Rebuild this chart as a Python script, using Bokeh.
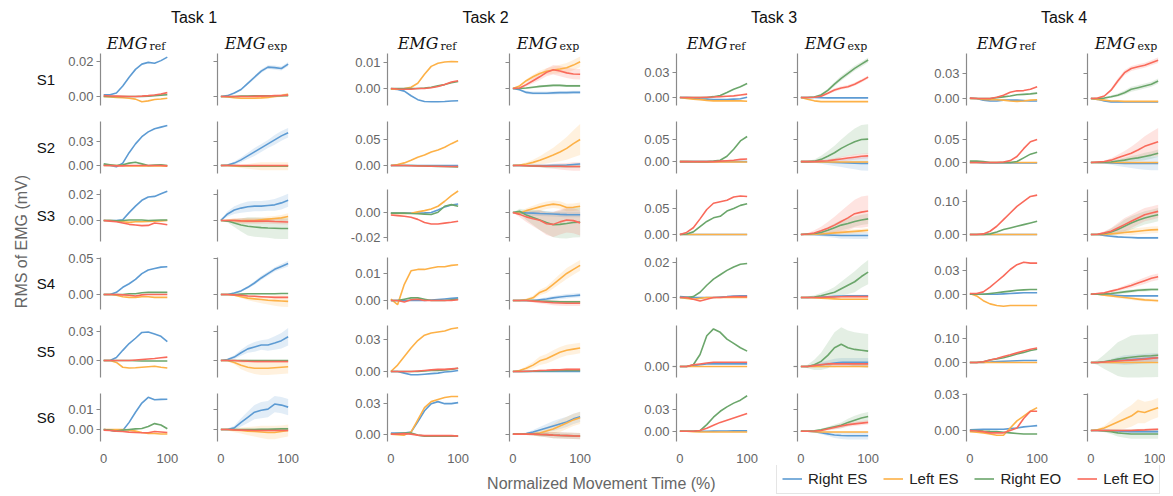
import math
from bokeh.plotting import figure
from bokeh.layouts import row, column
from bokeh.models import (Range1d, FixedTicker, NumeralTickFormatter, Legend, LegendItem,
                          CustomJSTickFormatter)
from bokeh.embed import file_html
from bokeh.resources import INLINE
from bokeh.core.properties import value

# ---------------- data ----------------
TIME = [0, 10, 20, 30, 40, 50, 60, 70, 80, 90, 100]
MUSCLES = ["Right ES", "Left ES", "Right EO", "Left EO"]
COLORS = ["#5d9bd3", "#fdb147", "#6ba66b", "#f96a5b"]
TASKS = ["Task 1", "Task 2", "Task 3", "Task 4"]
SUBJECTS = ["S1", "S2", "S3", "S4", "S5", "S6"]
X_TICKS = [0, 100]

T1_YLIM = [(-0.00514, 0.02457), (-0.01, 0.055), (-0.0162, 0.0238), (-0.0208, 0.0514), (-0.0176, 0.0362), (-0.0059, 0.0177)]
T2_YLIM = [(-0.00654, 0.01346), (-0.0154, 0.0846), (-0.0232, 0.0184), (-0.0033, 0.0159), (-0.0056, 0.0431), (-0.0073, 0.04)]
T3_YLIM = [(-0.0096, 0.0528), (-0.027, 0.091), (-0.0135, 0.0865), (-0.0069, 0.0229), (-0.0129, 0.048), (-0.0138, 0.051)]
T4_YLIM = [(-0.0084, 0.054), (-0.024, 0.089), (-0.021, 0.136), (-0.019, 0.046), (-0.0625, 0.154), (-0.0092, 0.0308)]

T1_TICKS = [[0, 0.02], [0, 0.03], [0, 0.02], [0, 0.05], [0, 0.03], [0, 0.01]]
T2_TICKS = [[0, 0.01], [0, 0.05], [-0.02, 0], [0, 0.01], [0, 0.03], [0, 0.03]]
T3_TICKS = [[0, 0.03], [0, 0.05], [0, 0.05], [0, 0.02], [0, 0.05], [0, 0.03]]
T4_TICKS = [[0, 0.03], [0, 0.05], [0, 0.1], [0, 0.03], [0, 0.1], [0, 0.03]]

# each panel: [Right ES, Left ES, Right EO, Left EO]
T1_S1_REF = [[0.001,0.001,0.002,0.006,0.011,0.0155,0.0185,0.0195,0.019,0.0205,0.0225],
             [0,-0.0003,-0.0005,-0.0007,-0.001,-0.0015,-0.003,-0.0025,-0.0017,-0.0014,-0.001],
             [0,0,0,0,0,0,0,0.0002,0.0005,0.0008,0.001],
             [0.0005,0.0003,0.0002,0.0001,0,0,0.0002,0.0005,0.0009,0.0014,0.0022]]
T1_S1_EXP = [[0,0.0005,0.002,0.004,0.0075,0.011,0.0145,0.0168,0.0165,0.016,0.0185],
             [0,-0.0003,-0.0007,-0.001,-0.001,-0.001,-0.0008,-0.0005,0,0.0005,0.0012],
             [0,0,0,0.0002,0.0003,0.0004,0.0004,0.0004,0.0004,0.0004,0.0005],
             [0,0,0,0,0,0.0001,0.0002,0.0003,0.0005,0.0006,0.0008]]
T1_S1_SD = [[0,0.0002,0.0004,0.0006,0.0008,0.001,0.001,0.001,0.0012,0.0012,0.0012],
            [0,0.0002,0.0004,0.0005,0.0006,0.0006,0.0006,0.0006,0.0007,0.0008,0.001],
            [0,0.0001,0.0002,0.0002,0.0002,0.0002,0.0002,0.0002,0.0002,0.0002,0.0003],
            [0,0.0001,0.0002,0.0002,0.0003,0.0003,0.0003,0.0003,0.0003,0.0004,0.0004]]

T1_S2_REF = [[0.0005,0,-0.0015,0.003,0.016,0.027,0.036,0.042,0.046,0.048,0.05],
             [0,0,0,0,-0.0005,-0.0005,-0.0005,-0.0005,-0.0005,-0.0005,-0.001],
             [0.002,0.001,0,0.001,0.003,0.004,0.002,0,0.0005,0.001,0],
             [0,0,-0.0005,-0.0005,0,0,0,0,0,0,-0.0005]]
T1_S2_EXP = [[0,0.0005,0.003,0.007,0.012,0.017,0.022,0.027,0.032,0.037,0.041],
             [0,0,-0.0005,-0.001,-0.001,-0.001,-0.001,-0.001,-0.001,-0.001,-0.001],
             [0,0,0,-0.0003,-0.0005,-0.0005,-0.0005,-0.0005,-0.0005,-0.0005,-0.0005],
             [0,0,0,0,0,0,0,0,0,0,0]]
T1_S2_SD = [[0,0.001,0.002,0.003,0.004,0.005,0.005,0.005,0.006,0.006,0.006],
            [0,0.0005,0.001,0.002,0.003,0.004,0.005,0.005,0.005,0.005,0.005],
            [0,0.0002,0.0003,0.0004,0.0005,0.0005,0.0005,0.0005,0.0005,0.0005,0.0005],
            [0,0.0002,0.0003,0.0004,0.0005,0.0005,0.0005,0.0005,0.0005,0.0005,0.0005]]

T1_S3_REF = [[0,0,0,0.0005,0.006,0.011,0.0155,0.018,0.0185,0.0205,0.0225],
             [0,0,-0.0005,-0.001,-0.0015,-0.001,-0.001,-0.0008,-0.0005,-0.0003,0],
             [0,0,-0.0003,0,0.0003,0.0003,0.0003,0,0.0002,0.0003,0.0003],
             [0,-0.0005,-0.001,-0.002,-0.003,-0.0035,-0.004,-0.0038,-0.002,-0.0025,-0.0033]]
T1_S3_EXP = [[0,0.005,0.008,0.0095,0.0105,0.011,0.011,0.0115,0.012,0.0135,0.0155],
             [0,0,0,-0.0003,0,0,0.0005,0.001,0.0015,0.002,0.003],
             [0,-0.0005,-0.002,-0.0035,-0.0045,-0.005,-0.0055,-0.0058,-0.006,-0.0062,-0.0062],
             [0,0,0,-0.0003,-0.0005,-0.0005,-0.0005,-0.0005,-0.0008,-0.001,-0.0012]]
T1_S3_SD = [[0,0.002,0.003,0.0035,0.004,0.004,0.004,0.004,0.0045,0.005,0.005],
            [0,0.001,0.0015,0.002,0.002,0.002,0.002,0.002,0.002,0.0022,0.0025],
            [0,0.001,0.003,0.005,0.007,0.0075,0.0075,0.0075,0.008,0.008,0.008],
            [0,0.001,0.0015,0.002,0.002,0.002,0.002,0.002,0.002,0.002,0.002]]

T1_S4_REF = [[0,0,0.003,0.01,0.015,0.021,0.029,0.034,0.036,0.038,0.0385],
             [0,0,-0.001,-0.003,-0.004,-0.004,-0.003,-0.003,-0.004,-0.004,-0.004],
             [0,0,0,0,0.001,0.001,0.0025,0.003,0.003,0.003,0.003],
             [0,0,0,-0.0005,-0.001,-0.002,-0.0005,0,0,0,0]]
T1_S4_EXP = [[0,0,0.002,0.005,0.01,0.016,0.023,0.029,0.035,0.039,0.043],
             [0,0,-0.001,-0.003,-0.005,-0.006,-0.007,-0.008,-0.0085,-0.009,-0.0095],
             [0,0,0,0.0005,0.001,0.001,0.001,0.001,0.001,0.0015,0.0015],
             [0,0,-0.0005,-0.001,-0.002,-0.0025,-0.003,-0.0035,-0.004,-0.004,-0.004]]
T1_S4_SD = [[0,0.0005,0.001,0.0015,0.002,0.0025,0.003,0.003,0.003,0.0035,0.004],
            [0,0.0005,0.001,0.002,0.003,0.004,0.005,0.006,0.007,0.008,0.008],
            [0,0.0003,0.0005,0.0005,0.0005,0.0005,0.0005,0.0005,0.0005,0.0005,0.0005],
            [0,0.0003,0.0005,0.001,0.001,0.001,0.001,0.001,0.001,0.001,0.001]]

T1_S5_REF = [[0,0,0.003,0.0105,0.0175,0.023,0.029,0.0295,0.0275,0.025,0.0195],
             [0,0,-0.002,-0.007,-0.0078,-0.0075,-0.007,-0.0065,-0.006,-0.007,-0.0078],
             [0,0,0,0,0,-0.0003,-0.0005,-0.0005,-0.0005,-0.0005,-0.0005],
             [0,0,0,0,0,0.0005,0.001,0.0015,0.002,0.0028,0.0035]]
T1_S5_EXP = [[0,0.001,0.0035,0.008,0.012,0.014,0.016,0.016,0.018,0.0205,0.0245],
             [0,0,-0.002,-0.005,-0.007,-0.008,-0.008,-0.008,-0.0075,-0.007,-0.0065],
             [0,0,0,0,0,0,0,0,0,0,0],
             [0,0,0,-0.0005,-0.0008,-0.001,-0.001,-0.001,-0.001,-0.001,-0.001]]
T1_S5_SD = [[0,0.001,0.002,0.003,0.004,0.005,0.005,0.006,0.007,0.008,0.009],
            [0,0.001,0.002,0.004,0.005,0.006,0.007,0.007,0.007,0.007,0.007],
            [0,0.0003,0.0005,0.0005,0.0005,0.0005,0.0005,0.0005,0.0005,0.0005,0.0005],
            [0,0.0005,0.001,0.0015,0.0015,0.0015,0.0015,0.0015,0.0015,0.0015,0.0015]]

T1_S6_REF = [[0,-0.0003,-0.0008,-0.0005,0.0035,0.0085,0.013,0.0158,0.0146,0.0148,0.0149],
             [0,0,0,0,-0.0003,-0.0008,-0.0015,-0.002,-0.002,-0.0022,-0.0022],
             [0,-0.0003,-0.0008,-0.0003,0,0.0003,0.0005,0.0015,0.0029,0.0022,0.0004],
             [-0.0003,-0.0005,-0.0008,-0.001,-0.0013,-0.0015,-0.0016,-0.0016,-0.001,-0.0012,-0.0015]]
T1_S6_EXP = [[0,0,0.0008,0.0035,0.006,0.0085,0.0095,0.01,0.0125,0.012,0.011],
             [0,0,-0.0003,-0.0005,-0.0008,-0.001,-0.0012,-0.0015,-0.0015,-0.001,-0.0005],
             [0,0,0,0,0,0,0.0001,0.0001,0.0002,0.0003,0.0003],
             [0,0,-0.0002,-0.0003,-0.0004,-0.0005,-0.0005,-0.0005,-0.0005,-0.0005,-0.0005]]
T1_S6_SD = [[0,0.0005,0.001,0.002,0.0028,0.0035,0.004,0.004,0.004,0.004,0.004],
            [0,0.0005,0.001,0.0015,0.002,0.0025,0.003,0.0033,0.0033,0.003,0.003],
            [0,0.0002,0.0003,0.0004,0.0005,0.0005,0.0005,0.0005,0.0005,0.0005,0.0005],
            [0,0.0002,0.0003,0.0004,0.0005,0.0005,0.0005,0.0005,0.0005,0.0005,0.0005]]

T2_S1_REF = [[-0.0002,-0.0004,-0.001,-0.0028,-0.0043,-0.005,-0.0051,-0.0051,-0.005,-0.0048,-0.0047],
             [-0.0003,-0.0003,0,0.0005,0.002,0.0055,0.0085,0.0097,0.0102,0.0104,0.0103],
             [0,0,0,0,0,0.0002,0.0005,0.001,0.0015,0.0022,0.0027],
             [0,-0.0002,-0.0003,-0.0003,0,0,0.0003,0.0008,0.0015,0.0025,0.003]]
T2_S1_EXP = [[0,-0.0005,-0.0015,-0.0018,-0.0018,-0.0018,-0.0017,-0.0016,-0.0016,-0.0015,-0.0015],
             [0,0.001,0.003,0.0045,0.0058,0.0066,0.0071,0.0075,0.008,0.009,0.0103],
             [0,0,0.0002,0.0005,0.0008,0.001,0.0012,0.0012,0.001,0.001,0.001],
             [0,0.0002,0.0015,0.003,0.0045,0.0062,0.0072,0.0067,0.006,0.0056,0.0055]]
T2_S1_SD = [[0,0.0003,0.0005,0.0006,0.0006,0.0006,0.0006,0.0006,0.0006,0.0006,0.0006],
            [0,0.0003,0.0006,0.0008,0.001,0.0012,0.0014,0.0016,0.0018,0.002,0.002],
            [0,0.0002,0.0003,0.0004,0.0004,0.0004,0.0004,0.0004,0.0004,0.0004,0.0004],
            [0,0.0003,0.0007,0.001,0.0012,0.0015,0.0018,0.002,0.002,0.002,0.002]]

T2_S2_REF = [[0,0,0,0,0,0,0,0,0,0,0],
             [0,0.002,0.005,0.01,0.016,0.02,0.026,0.03,0.035,0.042,0.048],
             [0,0,0,0,-0.0005,-0.001,-0.0015,-0.002,-0.002,-0.0025,-0.003],
             [0,0,0,-0.0005,-0.001,-0.001,-0.0015,-0.0015,-0.002,-0.002,-0.002]]
T2_S2_EXP = [[0,0,0,0,0,0,0.0003,0.0005,0.001,0.002,0.003],
             [0,0.001,0.003,0.006,0.01,0.015,0.02,0.026,0.033,0.042,0.05],
             [0,0,-0.0005,-0.001,-0.0015,-0.002,-0.002,-0.002,-0.002,-0.002,-0.002],
             [0,0,-0.0005,-0.001,-0.001,-0.0015,-0.0015,-0.0015,-0.002,-0.002,-0.002]]
T2_S2_SD = [[0,0.0003,0.0005,0.0005,0.0005,0.0005,0.0008,0.001,0.0012,0.0015,0.002],
            [0,0.001,0.003,0.005,0.008,0.011,0.014,0.018,0.022,0.026,0.03],
            [0,0.0003,0.0005,0.0008,0.001,0.001,0.001,0.001,0.001,0.001,0.001],
            [0,0.0005,0.001,0.002,0.003,0.004,0.005,0.006,0.007,0.008,0.008]]

T2_S3_REF = [[-0.0005,-0.0005,-0.0005,-0.0005,-0.0005,-0.0003,0,0.002,0.0045,0.006,0.0068],
             [-0.0008,-0.0008,-0.0008,-0.0006,0.0005,0.0015,0.0028,0.005,0.009,0.0135,0.0172],
             [-0.0005,-0.0005,-0.0005,-0.0008,-0.001,-0.0013,-0.0016,0.0002,0.005,0.0063,0.005],
             [-0.002,-0.0025,-0.003,-0.0038,-0.0055,-0.008,-0.0092,-0.0092,-0.0085,-0.0078,-0.007]]
T2_S3_EXP = [[0,0,-0.0003,-0.0005,-0.0008,-0.001,-0.0012,-0.0015,-0.0017,-0.0018,-0.0018],
             [0,-0.0005,0.0015,0.003,0.0045,0.0058,0.0067,0.006,0.004,0.0042,0.005],
             [0,0.001,-0.002,-0.004,-0.006,-0.008,-0.0098,-0.0095,-0.0088,-0.008,-0.0077],
             [0,-0.0015,-0.0035,-0.005,-0.0062,-0.009,-0.0095,-0.0075,-0.006,-0.0065,-0.0083]]
T2_S3_SD = [[0,0.001,0.0015,0.002,0.002,0.002,0.002,0.002,0.002,0.002,0.002],
            [0,0.001,0.002,0.0025,0.003,0.003,0.003,0.003,0.003,0.003,0.003],
            [0,0.002,0.004,0.006,0.008,0.009,0.01,0.011,0.012,0.012,0.012],
            [0,0.002,0.004,0.006,0.008,0.009,0.01,0.01,0.01,0.01,0.01]]

T2_S4_REF = [[0,0,0,0,0,0,0.0002,0.0004,0.0006,0.0008,0.001],
             [0.0005,-0.0015,0.006,0.011,0.0115,0.0115,0.012,0.0125,0.0125,0.013,0.0132],
             [0,0,0.0005,0.001,0.001,0.0005,0,0,0,0.0003,0.0005],
             [0,0,-0.0005,0.0003,0.0005,0,0,0,0,0,0.0003]]
T2_S4_EXP = [[0,0,0,0,0.0003,0.0006,0.001,0.0013,0.0016,0.0018,0.002],
             [0,0,0.0003,0.001,0.003,0.004,0.006,0.008,0.01,0.0115,0.013],
             [0,0,0,0,-0.0002,-0.0003,-0.0004,-0.0005,-0.0005,-0.0005,-0.0005],
             [0,0,0,-0.0002,-0.0004,-0.0006,-0.0008,-0.0009,-0.001,-0.001,-0.001]]
T2_S4_SD = [[0,0.0002,0.0003,0.0004,0.0005,0.0006,0.0007,0.0008,0.0008,0.0008,0.0008],
            [0,0.0003,0.0005,0.0008,0.001,0.0012,0.0015,0.0018,0.002,0.002,0.002],
            [0,0.0002,0.0002,0.0003,0.0003,0.0003,0.0003,0.0003,0.0003,0.0003,0.0003],
            [0,0.0002,0.0003,0.0005,0.0007,0.0008,0.0009,0.001,0.001,0.001,0.001]]

T2_S5_REF = [[0,0,-0.0015,-0.003,-0.003,-0.0025,-0.002,-0.0015,-0.0005,0,0.001],
             [0,0.006,0.014,0.022,0.029,0.034,0.036,0.037,0.038,0.04,0.041],
             [0,0,0,0,0,0.0005,0.001,0.001,0.0015,0.002,0.003],
             [0,0,0,0,0.0005,0.001,0.0015,0.002,0.002,0.0025,0.003]]
T2_S5_EXP = [[0,0,0,0,0,0,0,0,0,0,0],
             [0,0.001,0.003,0.006,0.01,0.012,0.015,0.018,0.02,0.021,0.022],
             [0,0,0,0.0003,0.0005,0.0007,0.0008,0.001,0.001,0.001,0.001],
             [0,0,0.0003,0.0005,0.001,0.0012,0.0015,0.0017,0.002,0.002,0.002]]
T2_S5_SD = [[0,0.0003,0.0005,0.0005,0.0005,0.0005,0.0005,0.0005,0.0005,0.0005,0.0005],
            [0,0.001,0.002,0.003,0.004,0.0045,0.005,0.005,0.005,0.005,0.005],
            [0,0.0003,0.0005,0.0005,0.0005,0.0005,0.0005,0.0005,0.0005,0.0005,0.0005],
            [0,0.0003,0.0005,0.0008,0.001,0.001,0.001,0.001,0.001,0.001,0.001]]

T2_S6_REF = [[0.001,0.001,0.001,0.002,0.012,0.023,0.03,0.032,0.03,0.03,0.031],
             [0,-0.0005,-0.001,0.002,0.014,0.026,0.032,0.034,0.036,0.037,0.037],
             [0,0.0005,0.001,0.001,-0.001,-0.002,-0.002,-0.002,-0.002,-0.002,-0.002],
             [0,0,0.0005,0,-0.001,-0.0015,-0.0015,-0.0015,-0.0015,-0.0015,-0.002]]
T2_S6_EXP = [[0,0,0.0005,0.002,0.004,0.006,0.008,0.01,0.012,0.015,0.017],
             [0,0,0,0.0003,0.001,0.003,0.005,0.008,0.011,0.014,0.016],
             [0,0,0,0,-0.0003,-0.0005,-0.001,-0.0013,-0.0015,-0.0018,-0.002],
             [0,0,0,0,-0.0003,-0.0005,-0.001,-0.0013,-0.0015,-0.0018,-0.002]]
T2_S6_SD = [[0,0.0005,0.001,0.002,0.003,0.004,0.005,0.005,0.005,0.005,0.005],
            [0,0.0005,0.001,0.002,0.003,0.004,0.005,0.006,0.006,0.006,0.006],
            [0,0.0005,0.001,0.0015,0.002,0.0025,0.003,0.003,0.003,0.003,0.003],
            [0,0.0005,0.001,0.0015,0.002,0.0025,0.003,0.003,0.003,0.003,0.003]]

T3_S1_REF = [[0,-0.0002,-0.0005,-0.0015,-0.002,-0.0025,-0.0025,-0.0025,-0.002,-0.0015,0.0003],
             [0,-0.001,-0.002,-0.0025,-0.0035,-0.004,-0.004,-0.004,-0.004,-0.004,-0.0045],
             [0,0,0,0,0,0.001,0.0025,0.006,0.01,0.013,0.0168],
             [0,0,0,0,0.0003,0.0006,0.001,0.0015,0.002,0.003,0.004]]
T3_S1_EXP = [[0,0,0,-0.0003,-0.0005,-0.0005,-0.0005,-0.0005,-0.0005,-0.0005,-0.0005],
             [0,-0.002,-0.004,-0.005,-0.005,-0.005,-0.005,-0.005,-0.005,-0.005,-0.005],
             [0,0,0.0005,0.003,0.0085,0.016,0.023,0.029,0.035,0.04,0.045],
             [0,0,0.0003,0.0015,0.005,0.009,0.0115,0.013,0.016,0.02,0.0245]]
T3_S1_SD = [[0,0.0003,0.0005,0.0005,0.0005,0.0005,0.0005,0.0005,0.0005,0.0005,0.0005],
            [0,0.0003,0.0005,0.0005,0.0005,0.0005,0.0005,0.0005,0.0005,0.0005,0.0005],
            [0,0.0005,0.001,0.0015,0.002,0.0025,0.003,0.003,0.003,0.003,0.003],
            [0,0.0005,0.001,0.0015,0.0015,0.002,0.002,0.002,0.002,0.002,0.002]]

T3_S2_REF = [[0,0,0,0,0,0,0,0,0,0,0],
             [0,0,-0.0005,-0.001,-0.001,-0.001,-0.001,-0.001,-0.001,-0.001,-0.001],
             [0,0,0,0,0,0.001,0.003,0.012,0.028,0.047,0.057],
             [0,0,0,0,0,0,0.001,0.002,0.003,0.005,0.006]]
T3_S2_EXP = [[0,0,-0.0005,-0.001,-0.0015,-0.002,-0.0025,-0.003,-0.0035,-0.004,-0.004],
             [0,0,-0.0005,-0.001,-0.001,-0.001,-0.001,-0.001,-0.001,-0.001,-0.001],
             [0,0,0.001,0.005,0.012,0.02,0.03,0.038,0.045,0.05,0.051],
             [0,0,0,0.001,0.002,0.004,0.006,0.008,0.01,0.012,0.013]]
T3_S2_SD = [[0,0.001,0.002,0.004,0.006,0.008,0.01,0.012,0.014,0.016,0.017],
            [0,0.0003,0.0005,0.0008,0.001,0.001,0.001,0.001,0.001,0.001,0.001],
            [0,0.002,0.004,0.008,0.012,0.016,0.02,0.025,0.03,0.033,0.034],
            [0,0.0005,0.001,0.002,0.003,0.004,0.005,0.006,0.006,0.006,0.006]]

T3_S3_REF = [[0,0,0,0,0,0,0,0,0,0,0],
             [0,0,0,0,0,0,0,0,0,0,0],
             [0,0.001,0.005,0.015,0.025,0.032,0.035,0.045,0.05,0.056,0.059],
             [0,0.004,0.013,0.03,0.048,0.06,0.063,0.066,0.072,0.074,0.073]]
T3_S3_EXP = [[0,0,0,-0.0005,-0.001,-0.0015,-0.002,-0.002,-0.002,-0.002,-0.002],
             [0,0,0.0005,0.001,0.002,0.003,0.004,0.005,0.006,0.007,0.008],
             [0,0.001,0.002,0.004,0.008,0.013,0.018,0.021,0.025,0.028,0.03],
             [0,0.001,0.003,0.007,0.012,0.018,0.025,0.032,0.04,0.043,0.045]]
T3_S3_SD = [[0,0.001,0.002,0.003,0.004,0.005,0.006,0.006,0.0065,0.0065,0.0065],
            [0,0.0005,0.001,0.002,0.003,0.003,0.004,0.004,0.004,0.004,0.004],
            [0,0.001,0.002,0.004,0.006,0.008,0.01,0.01,0.01,0.01,0.01],
            [0,0.002,0.005,0.008,0.012,0.016,0.02,0.024,0.027,0.03,0.03]]

T3_S4_REF = [[0.0005,0.0003,0,0,0,0,0.0003,0.0005,0.0008,0.001,0.001],
             [0,-0.0005,-0.001,-0.0005,0,0,0,0,0,0,0],
             [0,0,0.0005,0.003,0.007,0.0105,0.013,0.0155,0.0175,0.019,0.0195],
             [0,0,-0.001,-0.002,-0.001,0,0,0.0003,0.0005,0.0005,0.0005]]
T3_S4_EXP = [[0,0,0,0.0002,0.0004,0.0006,0.0008,0.001,0.001,0.001,0.001],
             [0,0,-0.0002,-0.0004,-0.0006,-0.0008,-0.001,-0.001,-0.001,-0.001,-0.001],
             [0,0,0.0003,0.001,0.002,0.003,0.005,0.007,0.009,0.012,0.0145],
             [0,0,0,0,0.0002,0.0003,0.0004,0.0005,0.0005,0.0005,0.0005]]
T3_S4_SD = [[0,0.0002,0.0003,0.0004,0.0005,0.0005,0.0005,0.0005,0.0005,0.0005,0.0005],
            [0,0.0002,0.0003,0.0004,0.0005,0.0005,0.0005,0.0005,0.0005,0.0005,0.0005],
            [0,0.0005,0.001,0.0015,0.002,0.003,0.004,0.005,0.006,0.0065,0.007],
            [0,0.0002,0.0003,0.0004,0.0005,0.0005,0.0005,0.0005,0.0005,0.0005,0.0005]]

T3_S5_REF = [[0,0,0.001,0.002,0.003,0.003,0.003,0.003,0.003,0.003,0.003],
             [0,0,0,0,0,0,0,0,0,0,0],
             [0,0,0.002,0.014,0.036,0.044,0.04,0.032,0.027,0.022,0.018],
             [0,0,0.002,0.003,0.004,0.005,0.005,0.005,0.005,0.005,0.005]]
T3_S5_EXP = [[0,0,0.001,0.002,0.003,0.004,0.005,0.005,0.005,0.005,0.005],
             [0,0,0,0,0,0,0,0,0,0,0],
             [0,0,0.002,0.006,0.013,0.022,0.026,0.022,0.02,0.019,0.018],
             [0,0,0.001,0.002,0.003,0.003,0.003,0.003,0.003,0.003,0.003]]
T3_S5_SD = [[0,0.001,0.002,0.003,0.004,0.005,0.005,0.005,0.005,0.005,0.005],
            [0,0.0005,0.001,0.001,0.001,0.001,0.001,0.001,0.001,0.001,0.001],
            [0,0.002,0.006,0.01,0.015,0.018,0.02,0.02,0.02,0.02,0.02],
            [0,0.001,0.002,0.002,0.002,0.002,0.002,0.002,0.002,0.002,0.002]]

T3_S6_REF = [[0,0,0,0,0,0.0002,0.0003,0.0004,0.0005,0.0005,0.0005],
             [0,0,-0.0005,-0.001,-0.001,-0.001,-0.001,-0.001,-0.001,-0.001,-0.001],
             [0,0,0,0.001,0.009,0.019,0.027,0.033,0.038,0.042,0.048],
             [0,0,0,0.001,0.004,0.008,0.012,0.015,0.018,0.021,0.024]]
T3_S6_EXP = [[0,0,-0.0005,-0.002,-0.0035,-0.005,-0.0058,-0.006,-0.006,-0.006,-0.006],
             [0,0,-0.0005,-0.001,-0.001,-0.001,-0.001,-0.001,-0.001,-0.001,-0.001],
             [0,0,0.0005,0.002,0.004,0.006,0.008,0.012,0.015,0.018,0.02],
             [0,0,0.0003,0.001,0.003,0.005,0.007,0.009,0.01,0.011,0.012]]
T3_S6_SD = [[0,0.0005,0.001,0.002,0.003,0.004,0.0045,0.005,0.005,0.005,0.005],
            [0,0.0003,0.0005,0.0005,0.0005,0.0005,0.0005,0.0005,0.0005,0.0005,0.0005],
            [0,0.0005,0.001,0.0015,0.002,0.003,0.004,0.005,0.006,0.006,0.006],
            [0,0.0005,0.001,0.0015,0.002,0.0025,0.003,0.003,0.003,0.003,0.003]]

T4_S1_REF = [[0.0005,0,-0.002,-0.003,-0.003,-0.002,-0.002,-0.002,-0.0025,-0.003,-0.003],
             [0,0,-0.001,-0.0015,-0.0015,-0.002,-0.003,-0.0035,-0.003,-0.002,-0.0015],
             [0,0,0,0,0.001,0.002,0.003,0.0045,0.005,0.0055,0.0065],
             [0.0005,0,0,0,0.0015,0.004,0.0075,0.0092,0.0095,0.011,0.014]]
T4_S1_EXP = [[0,-0.001,-0.003,-0.004,-0.004,-0.004,-0.004,-0.004,-0.004,-0.004,-0.004],
             [0,-0.001,-0.002,-0.003,-0.003,-0.0035,-0.0035,-0.0035,-0.0035,-0.0035,-0.0035],
             [0,0,0.0005,0.002,0.004,0.007,0.011,0.013,0.015,0.017,0.021],
             [0,0.0005,0.003,0.01,0.021,0.031,0.036,0.038,0.04,0.043,0.046]]
T4_S1_SD = [[0,0.0003,0.0005,0.0005,0.0005,0.0005,0.0005,0.0005,0.0005,0.0005,0.0005],
            [0,0.0003,0.0005,0.0005,0.0005,0.0005,0.0005,0.0005,0.0005,0.0005,0.0005],
            [0,0.0005,0.001,0.0015,0.002,0.0025,0.003,0.003,0.003,0.003,0.003],
            [0,0.0005,0.001,0.002,0.003,0.003,0.003,0.003,0.003,0.003,0.0035]]

T4_S2_REF = [[0,0,-0.001,-0.001,-0.001,-0.001,-0.001,-0.001,-0.001,-0.001,-0.001],
             [0,0,0,0,0,0,0,0,0,0,0],
             [0.003,0.003,0.002,0,0,0,0,0.002,0.01,0.018,0.022],
             [0,0,0,0,0,0.001,0.004,0.013,0.03,0.045,0.05]]
T4_S2_EXP = [[0,0,-0.0005,-0.001,-0.0015,-0.002,-0.002,-0.002,-0.002,-0.002,-0.002],
             [0,0,0,0,0,0,0,0,0,0,0],
             [0,0,0.0005,0.001,0.003,0.005,0.008,0.01,0.013,0.016,0.02],
             [0,0.001,0.002,0.005,0.01,0.015,0.02,0.027,0.035,0.04,0.045]]
T4_S2_SD = [[0,0.001,0.002,0.004,0.006,0.008,0.01,0.012,0.014,0.015,0.015],
            [0,0.0005,0.001,0.001,0.001,0.001,0.001,0.001,0.001,0.001,0.001],
            [0,0.001,0.002,0.003,0.004,0.005,0.006,0.007,0.008,0.008,0.008],
            [0,0.001,0.002,0.004,0.007,0.01,0.014,0.018,0.022,0.026,0.03]]

T4_S3_REF = [[0,0,0,0,0,0,0,0,0,0,0],
             [0,0,0,0,0,0,0,0,0,0,0],
             [0,0,0,0.002,0.008,0.015,0.02,0.025,0.03,0.035,0.04],
             [0,0,0.002,0.01,0.025,0.045,0.065,0.085,0.1,0.115,0.119]]
T4_S3_EXP = [[0,0,-0.003,-0.005,-0.007,-0.008,-0.009,-0.01,-0.01,-0.01,-0.01],
             [0,0,0,0.002,0.004,0.006,0.008,0.01,0.012,0.014,0.015],
             [0,0,0.003,0.008,0.015,0.025,0.035,0.043,0.05,0.055,0.06],
             [0,0.001,0.005,0.01,0.02,0.03,0.04,0.05,0.06,0.065,0.07]]
T4_S3_SD = [[0,0.001,0.002,0.003,0.003,0.003,0.003,0.003,0.003,0.003,0.003],
            [0,0.001,0.002,0.004,0.006,0.008,0.01,0.01,0.01,0.01,0.01],
            [0,0.002,0.005,0.01,0.015,0.02,0.02,0.02,0.02,0.02,0.02],
            [0,0.002,0.005,0.01,0.015,0.02,0.02,0.02,0.02,0.02,0.02]]

T4_S4_REF = [[0,0,0,0,0,0.0005,0.001,0.0015,0.002,0.002,0.002],
             [0.001,-0.002,-0.008,-0.012,-0.014,-0.015,-0.014,-0.014,-0.014,-0.014,-0.014],
             [0,0,0,0.001,0.002,0.003,0.004,0.005,0.0055,0.006,0.006],
             [0.001,0.001,0.003,0.009,0.016,0.023,0.031,0.037,0.04,0.039,0.039]]
T4_S4_EXP = [[0,0,-0.0005,-0.001,-0.0015,-0.002,-0.002,-0.002,-0.002,-0.002,-0.002],
             [0,0,-0.001,-0.002,-0.003,-0.004,-0.005,-0.006,-0.007,-0.0075,-0.008],
             [0,0,0.0005,0.001,0.002,0.003,0.004,0.005,0.0055,0.006,0.006],
             [0,0.001,0.002,0.004,0.006,0.0085,0.011,0.014,0.017,0.02,0.022]]
T4_S4_SD = [[0,0.0005,0.001,0.001,0.001,0.001,0.001,0.001,0.001,0.001,0.001],
            [0,0.0005,0.001,0.0015,0.002,0.002,0.002,0.002,0.002,0.002,0.002],
            [0,0.0005,0.001,0.0015,0.002,0.002,0.002,0.002,0.002,0.002,0.002],
            [0,0.0005,0.001,0.0015,0.002,0.0025,0.003,0.0035,0.004,0.004,0.004]]

T4_S5_REF = [[0,0,0,0.002,0.004,0.005,0.006,0.007,0.008,0.008,0.008],
             [0,0,0,0,0,0,0,0,0,0,0],
             [0,0,0.003,0.01,0.015,0.02,0.027,0.035,0.042,0.05,0.055],
             [0,0,0.003,0.01,0.017,0.025,0.032,0.04,0.048,0.055,0.06]]
T4_S5_EXP = [[0,0,0.002,0.005,0.008,0.01,0.012,0.014,0.016,0.018,0.02],
             [0,0,0,0,0,0,0,0,0,0,0],
             [0,0,0.003,0.008,0.014,0.018,0.022,0.025,0.027,0.028,0.03],
             [0,0,0.002,0.004,0.006,0.008,0.01,0.012,0.014,0.017,0.02]]
T4_S5_SD = [[0,0.002,0.005,0.01,0.015,0.02,0.02,0.02,0.02,0.02,0.02],
            [0,0.001,0.002,0.002,0.002,0.002,0.002,0.002,0.002,0.002,0.002],
            [0,0.01,0.03,0.05,0.07,0.08,0.09,0.09,0.09,0.09,0.09],
            [0,0.002,0.005,0.008,0.01,0.012,0.014,0.015,0.015,0.015,0.015]]

T4_S6_REF = [[0.0005,0.0008,0.001,0.001,0.001,0.001,0.0015,0.002,0.003,0.0035,0.004],
             [-0.001,-0.0015,-0.002,-0.003,-0.004,-0.004,0.002,0.008,0.012,0.016,0.019],
             [0,0,-0.0005,-0.0008,-0.001,-0.0015,-0.002,-0.0025,-0.003,-0.003,-0.003],
             [0,-0.0005,-0.001,-0.002,-0.002,-0.002,0,0.002,0.01,0.016,0.016]]
T4_S6_EXP = [[0,0,0,-0.0003,-0.0005,-0.0008,-0.001,-0.001,-0.001,-0.001,-0.001],
             [0,0.0005,0.002,0.0045,0.007,0.0095,0.012,0.016,0.015,0.017,0.019],
             [0,0,-0.0005,-0.001,-0.002,-0.0025,-0.003,-0.003,-0.003,-0.003,-0.003],
             [0,0,0,0,0,0,0,0.0003,0.0005,0.0008,0.001]]
T4_S6_SD = [[0,0.0005,0.001,0.001,0.001,0.001,0.001,0.001,0.001,0.001,0.001],
            [0,0.001,0.002,0.004,0.006,0.008,0.009,0.01,0.009,0.008,0.008],
            [0,0.0005,0.001,0.002,0.003,0.0035,0.004,0.004,0.004,0.004,0.004],
            [0,0.0005,0.001,0.001,0.001,0.001,0.001,0.001,0.001,0.001,0.001]]

# ---------------- layout constants (pixels) ----------------
FONT = "Liberation Sans"
TICK_COLOR = "#666666"
SPINE_COLOR = "#8a8a8a"
LEFT_W = 33
FRAME_W = 74
FRAME_H = 52
BORDER_L = [63, 10, 45, 10, 45, 10, 45, 10]
BORDER_R = [37, 51, 38, 48, 37, 50, 37, 4]
ROW_TOP = [0, 8, 8, 8, 8, 8]
ROW_BOT = [8, 8, 8, 8, 8, 20]
HEADER_H = 53
FOOTER_H = 31

YLIMS = [T1_YLIM, T2_YLIM, T3_YLIM, T4_YLIM]
YTICKS = [T1_TICKS, T2_TICKS, T3_TICKS, T4_TICKS]
NO_LABELS = CustomJSTickFormatter(code="return ''")


def panel(t, s, kind):
    c = 2 * t + (0 if kind == "ref" else 1)
    lo, hi = YLIMS[t][s]
    h = ROW_TOP[s] + FRAME_H + ROW_BOT[s]
    w = BORDER_L[c] + FRAME_W + BORDER_R[c]
    p = figure(width=w, height=h, x_range=Range1d(-5, 105), y_range=Range1d(lo, hi),
               output_backend="svg", toolbar_location=None,
               min_border_left=BORDER_L[c], min_border_right=BORDER_R[c],
               min_border_top=ROW_TOP[s], min_border_bottom=ROW_BOT[s])
    p.outline_line_color = None
    p.xgrid.visible = False
    p.ygrid.visible = False

    name = f"T{t+1}_S{s+1}_" + ("REF" if kind == "ref" else "EXP")
    means = globals()[name]
    if kind == "exp":
        sds = globals()[f"T{t+1}_S{s+1}_SD"]
        for m in range(4):
            lower = [a - b for a, b in zip(means[m], sds[m])]
            upper = [a + b for a, b in zip(means[m], sds[m])]
            p.varea(x=TIME, y1=lower, y2=upper, fill_color=COLORS[m], fill_alpha=0.18)
    for m in range(4):
        p.line(TIME, means[m], line_color=COLORS[m], line_width=1.6)

    ya = p.yaxis[0]
    ya.ticker = FixedTicker(ticks=YTICKS[t][s])
    ya.axis_line_color = SPINE_COLOR
    ya.axis_line_width = 1.2
    ya.major_tick_line_color = SPINE_COLOR
    ya.major_tick_line_width = 1.2
    ya.major_tick_out = 4
    ya.major_tick_in = 0
    ya.minor_tick_line_color = None
    ya.major_label_standoff = 3
    ya.major_label_text_font = FONT
    ya.major_label_text_color = TICK_COLOR
    ya.major_label_text_font_size = "13px"
    if kind == "ref":
        ya.formatter = NumeralTickFormatter(format="0.00")
    else:
        ya.formatter = NO_LABELS
    if c == 0:
        ya.axis_label = SUBJECTS[s]
        ya.axis_label_orientation = "horizontal"
        ya.axis_label_standoff = 10
        ya.axis_label_text_font = FONT
        ya.axis_label_text_font_style = "normal"
        ya.axis_label_text_font_size = "15px"
        ya.axis_label_text_color = "#111111"

    xa = p.xaxis[0]
    if s == len(SUBJECTS) - 1:
        xa.ticker = FixedTicker(ticks=X_TICKS)
        xa.axis_line_color = None
        xa.major_tick_line_color = None
        xa.minor_tick_line_color = None
        xa.major_label_standoff = 6
        xa.major_label_text_font = FONT
        xa.major_label_text_color = TICK_COLOR
        xa.major_label_text_font_size = "13px"
    else:
        xa.visible = False
    return p


def blank(width, height, xr, yr):
    p = figure(width=width, height=height, x_range=Range1d(*xr), y_range=Range1d(*yr),
               output_backend="svg", toolbar_location=None,
               min_border_left=0, min_border_right=0, min_border_top=0, min_border_bottom=0)
    p.axis.visible = False
    p.grid.visible = False
    p.outline_line_color = None
    return p


TOTAL_W = LEFT_W + sum(BORDER_L) + 8 * FRAME_W + sum(BORDER_R)

# column frame left edges in page pixels
frame_left = []
acc = LEFT_W
for c in range(8):
    frame_left.append(acc + BORDER_L[c])
    acc += BORDER_L[c] + FRAME_W + BORDER_R[c]
data0 = [f + FRAME_W * 5 / 110 for f in frame_left]
data_w = FRAME_W * 100 / 110

# header
header = blank(TOTAL_W, HEADER_H, (0, TOTAL_W), (HEADER_H, 0))
task_x = [(data0[2 * t] + data0[2 * t + 1] + data_w) / 2 for t in range(4)]
header.text(x=task_x, y=[17] * 4, text=TASKS, text_font=value(FONT), text_font_size="16px",
            text_color="#111111", text_align="center", text_baseline="middle")
col_center = [d + data_w / 2 for d in data0]
emg_x = [col_center[c] + (14 if c % 2 == 0 else 11) for c in range(8)]
subs = ["ref" if c % 2 == 0 else "exp" for c in range(8)]
header.text(x=emg_x, y=[42.5] * 8, text=["EMG"] * 8, text_font=value("DejaVu Serif"),
            text_font_style="italic", text_font_size="16px", text_color="#111111",
            text_align="right", text_baseline="middle")
header.text(x=[e + 2 for e in emg_x], y=[45.5] * 8, text=subs, text_font=value("DejaVu Serif"),
            text_font_size="11px", text_color="#111111", text_align="left", text_baseline="middle")

# rows
grid_h = sum(ROW_TOP) + 6 * FRAME_H + sum(ROW_BOT)
y_top = HEADER_H
rows = []
for s in range(6):
    rows.append(row(*[panel(t, s, k) for t in range(4) for k in ("ref", "exp")]))

left = blank(LEFT_W, grid_h, (0, LEFT_W), (y_top + grid_h, y_top))
left.text(x=[21], y=[241], text=["RMS of EMG (mV)"],
          text_font=value(FONT), text_font_size="16px", text_color=TICK_COLOR,
          text_align="center", text_baseline="middle", angle=math.pi / 2)

# footer
f_top = y_top + grid_h
footer = blank(TOTAL_W, FOOTER_H, (0, TOTAL_W), (f_top + FOOTER_H, f_top))
footer.text(x=[601], y=[483], text=["Normalized Movement Time (%)"],
            text_font=value(FONT), text_font_size="16px", text_color=TICK_COLOR,
            text_align="center", text_baseline="middle")
items = []
for m in range(4):
    r = footer.line(x=[float("nan")], y=[float("nan")], line_color=COLORS[m], line_width=1.6)
    items.append(LegendItem(label=MUSCLES[m], renderers=[r]))
legend = Legend(items=items, orientation="horizontal", location=(776, 2),
                label_text_font=FONT, label_text_font_size="15px", label_text_color="#222222",
                glyph_width=20, glyph_height=19, label_height=19, label_standoff=6,
                spacing=16, padding=5, margin=0, border_line_color="#cccccc",
                border_line_width=1, background_fill_alpha=1.0)
footer.add_layout(legend)

layout = column(header, row(left, column(*rows)), footer)
open("out.html", "w").write(file_html(layout, INLINE))
